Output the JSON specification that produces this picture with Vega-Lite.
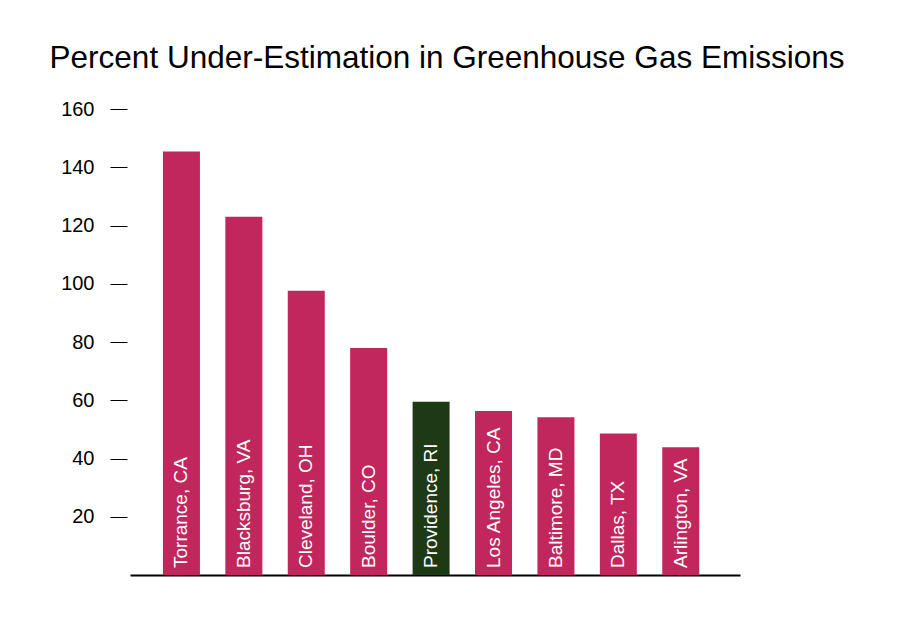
{
  "$schema": "https://vega.github.io/schema/vega-lite/v6.json",
  "autosize": "none",
  "width": 610,
  "height": 466,
  "padding": {"left": 130, "top": 109, "right": 160, "bottom": 69},
  "background": "white",
  "title": {
    "text": "Percent Under-Estimation in Greenhouse Gas Emissions",
    "font": "Liberation Sans",
    "fontSize": 31.5,
    "fontWeight": "normal",
    "color": "black",
    "anchor": "middle",
    "dx": 12,
    "offset": 25
  },
  "data": {
    "values": [
      {"city": "Torrance, CA", "pct": 145.4, "group": "other"},
      {"city": "Blacksburg, VA", "pct": 123.0, "group": "other"},
      {"city": "Cleveland, OH", "pct": 97.6, "group": "other"},
      {"city": "Boulder, CO", "pct": 77.9, "group": "other"},
      {"city": "Providence, RI", "pct": 59.5, "group": "focus"},
      {"city": "Los Angeles, CA", "pct": 56.3, "group": "other"},
      {"city": "Baltimore, MD", "pct": 54.2, "group": "other"},
      {"city": "Dallas, TX", "pct": 48.6, "group": "other"},
      {"city": "Arlington, VA", "pct": 43.9, "group": "other"}
    ]
  },
  "config": {"view": {"stroke": null}},
  "encoding": {
    "x": {
      "field": "city",
      "type": "nominal",
      "sort": null,
      "scale": {"paddingInner": 0.407, "paddingOuter": 0.59, "align": 0.447},
      "axis": {"title": null, "labels": false, "ticks": false, "domain": true, "domainColor": "black", "domainWidth": 2, "grid": false}
    }
  },
  "layer": [
    {
      "mark": {"type": "bar"},
      "encoding": {
        "y": {
          "field": "pct",
          "type": "quantitative",
          "scale": {"domain": [0, 160], "nice": false},
          "axis": {
            "title": null,
            "values": [20, 40, 60, 80, 100, 120, 140, 160],
            "domain": false,
            "grid": false,
            "ticks": true,
            "tickColor": "black",
            "tickSize": 17,
            "tickWidth": 1,
            "offset": 3,
            "labelPadding": 16,
            "labelFont": "Liberation Sans",
            "labelFontSize": 20,
            "labelColor": "black"
          }
        },
        "color": {
          "field": "group",
          "type": "nominal",
          "scale": {"domain": ["other", "focus"], "range": ["#C1265C", "#1E3A14"]},
          "legend": null
        }
      }
    },
    {
      "mark": {
        "type": "text",
        "angle": 270,
        "align": "left",
        "baseline": "middle",
        "dx": 7,
        "color": "white",
        "font": "Liberation Sans",
        "fontSize": 19
      },
      "encoding": {
        "y": {"datum": 0, "type": "quantitative"},
        "text": {"field": "city", "type": "nominal"}
      }
    }
  ]
}
